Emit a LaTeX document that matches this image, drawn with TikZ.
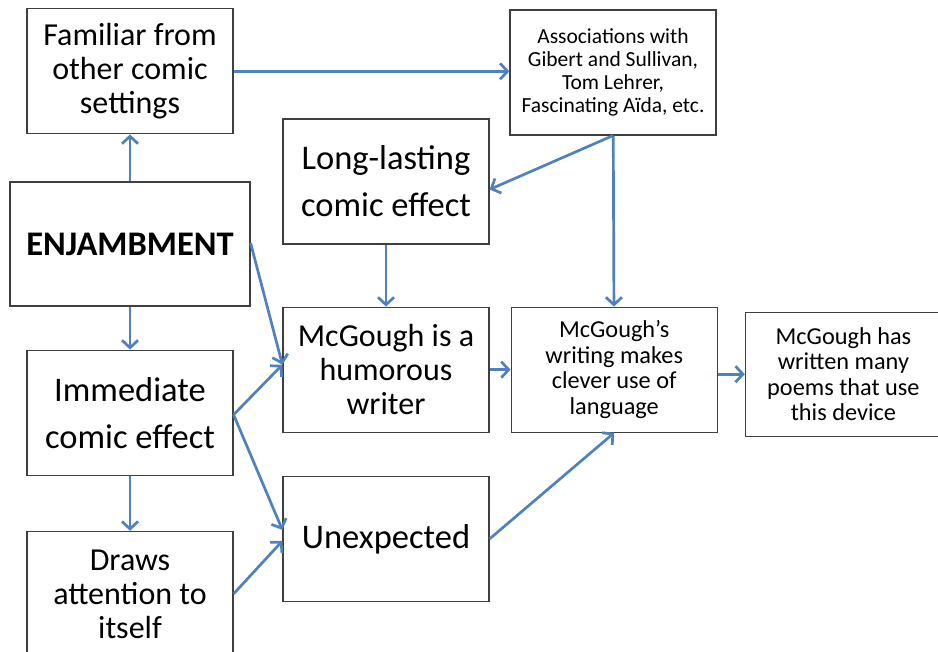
\documentclass[tikz,border=0pt]{standalone}
\usepackage{fontspec}
\setmainfont{Carlito}
\usetikzlibrary{arrows.meta, positioning}
\definecolor{linkblue}{HTML}{4F81BD}
\definecolor{boxline}{HTML}{3F3F3F}

\tikzset{
  box/.style={rectangle, draw=boxline, line width=1.2pt, fill=white, minimum width=206pt, minimum height=125pt, align=center, inner sep=0pt},
  bigtext/.style={font=\fontsize{32}{34}\selectfont},
  widetext/.style={font=\fontsize{34.5}{47}\selectfont},
  smalltext/.style={font=\fontsize{24.3}{25.5}\selectfont},
  tinytext/.style={font=\fontsize{21.5}{23}\selectfont},
  link/.style={draw=linkblue, line width=2.7pt, -{Straight Barb[length=7.5pt, width=16pt, line width=2.7pt]}},
}

\begin{document}
\begin{tikzpicture}[x=1pt, y=-1pt, node distance=43pt and 21pt]
    \useasboundingbox (0,0) rectangle (938,652);

    % left column
    \node[box, minimum width=240pt, minimum height=124pt, font=\fontsize{34.5}{36}\selectfont\bfseries] (enj) at (130,244) {ENJAMBMENT};
    \node[box, bigtext, above=47pt of enj] (fam) {Familiar from\\other comic\\settings};
    \node[box, widetext, below=43pt of enj] (imm) {Immediate\\comic effect};
    \node[box, bigtext, below=55pt of imm] (draws) {Draws\\attention to\\itself};

    % middle column
    \node[box, widetext] (long) at (386,181.5) {Long-lasting\\comic effect};
    \node[box, bigtext, below=62pt of long] (humor) {McGough is a\\humorous\\writer};
    \node[box, widetext, below=43pt of humor] (unexp) {Unexpected};

    % right columns
    \node[box, tinytext] (assoc) at (613,72.5) {Associations with\\Gibert and Sullivan,\\Tom Lehrer,\\Fascinating Aïda, etc.};
    \node[box, smalltext, right=21pt of humor] (writ) {McGough’s\\writing makes\\clever use of\\language};
    \node[box, smalltext, minimum width=196pt, minimum height=124pt, right=27pt of writ, yshift=-4.5pt] (has) {McGough has\\written many\\poems that use\\this device};

    \draw[link] (enj) -- (fam);
    \draw[link] (fam.east) -- (fam.east -| assoc.west);
    \draw[link] (assoc.south) -- ([yshift=-8pt]long.east);
    \draw[link] (assoc) -- (writ);
    \draw[link] (long) -- (humor);
    \draw[link] ([yshift=1pt]enj.east) -- ([yshift=5pt]humor.west);
    \draw[link] ([yshift=-2pt]imm.east) -- ([yshift=5pt]humor.west);
    \draw[link] ([yshift=-2pt]imm.east) -- ([yshift=9pt]unexp.west);
    \draw[link] (enj) -- (imm);
    \draw[link] (imm) -- (draws);
    \draw[link] (draws.east) -- ([yshift=-2pt]unexp.west);
    \draw[link] (unexp.east) -- (writ.south);
    \draw[link] (humor) -- (writ);
    \draw[link] ([yshift=-4.5pt]writ.east) -- (has.west);
\end{tikzpicture}
\end{document}
